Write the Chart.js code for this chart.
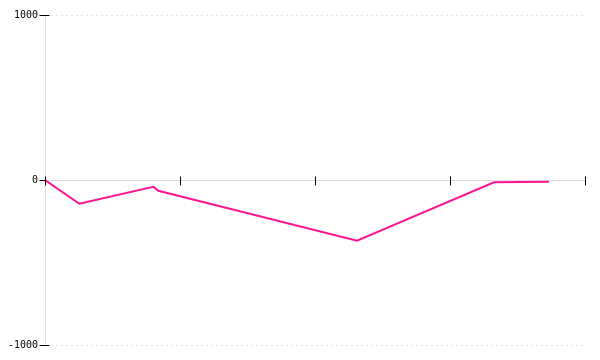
<!DOCTYPE html>
<html>
<head>
<meta charset="utf-8">
<script src="https://cdn.jsdelivr.net/npm/chart.js@4"></script>
<style>
  html, body { margin: 0; padding: 0; background: #fff; }
  #wrap { width: 600px; height: 360px; }
</style>
</head>
<body>
<div id="wrap"><canvas id="myChart"></canvas></div>
<script>
// values
const xValues = [0, 0.254, 0.802, 0.839, 2.311, 3.326, 3.531, 3.733];
const yValues = [0, -144, -41, -65, -368, -14, -12, -10];
const yTicks = [-1000, 0, 1000];
const xTicks = [0, 1, 2, 3, 4];

const points = xValues.map((x, i) => ({ x: x, y: yValues[i] }));

// short black tick marks that cross the axis lines
const crossTicks = {
  id: 'crossTicks',
  afterDraw(chart) {
    const ctx = chart.ctx;
    const xs = chart.scales.x, ys = chart.scales.y;
    const y0 = Math.round(ys.getPixelForValue(0)) + 0.5;
    const x0 = Math.round(xs.getPixelForValue(0)) + 0.5;
    ctx.save();
    ctx.strokeStyle = '#000';
    ctx.lineWidth = 1;
    ctx.beginPath();
    xTicks.forEach(v => {
      const px = Math.round(xs.getPixelForValue(v)) + 0.5;
      ctx.moveTo(px, y0 - 4);
      ctx.lineTo(px, y0 + 5);
    });
    yTicks.forEach(v => {
      const py = Math.round(ys.getPixelForValue(v)) + 0.5;
      ctx.moveTo(x0 - 6, py);
      ctx.lineTo(x0 + (v === 0 ? 0 : 4), py);
    });
    ctx.stroke();
    ctx.restore();
  }
};

new Chart(document.getElementById('myChart'), {
  type: 'line',
  data: {
    datasets: [{
      data: points,
      borderColor: '#ff1493',
      borderWidth: 2,
      pointRadius: 0,
      tension: 0,
      fill: false
    }]
  },
  options: {
    responsive: true,
    maintainAspectRatio: false,
    animation: false,
    layout: { padding: { left: 1, top: 15, right: 15, bottom: 15 } },
    plugins: { legend: { display: false }, tooltip: { enabled: false } },
    scales: {
      x: {
        type: 'linear',
        min: 0,
        max: 4,
        position: { y: 0 },
        ticks: { display: false, stepSize: 1 },
        grid: { display: false, drawTicks: false },
        border: { color: '#dddddd', width: 1 }
      },
      y: {
        type: 'linear',
        min: -1000,
        max: 1000,
        afterBuildTicks: s => { s.ticks = yTicks.map(v => ({ value: v })); },
        ticks: {
          padding: 7,
          color: '#000',
          font: { family: 'DejaVu Sans Mono', size: 10 },
          callback: v => String(v)
        },
        grid: {
          drawTicks: false,
          color: c => (c.tick && c.tick.value === 0) ? 'rgba(0,0,0,0)' : '#e4e4e4'
        },
        border: { color: '#dddddd', width: 1, dash: [2, 3] }
      }
    }
  },
  plugins: [crossTicks]
});
</script>
</body>
</html>
